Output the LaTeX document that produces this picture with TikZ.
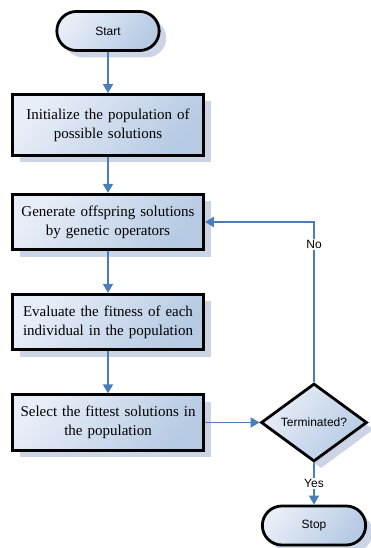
\documentclass[tikz,border=0pt]{standalone}
\usepackage{fontspec}
\setmainfont{Liberation Serif}
\setsansfont{Liberation Sans}
\usetikzlibrary{shapes.geometric,shapes.misc,shadows,arrows.meta}

\definecolor{boxlight}{HTML}{E8EEF8}
\definecolor{boxdark}{HTML}{B6CAE3}
\definecolor{flowblue}{HTML}{4A7EBB}
\definecolor{shadowgray}{HTML}{CCD5E6}

\tikzset{
  boxbase/.style={draw, line width=2.8pt, top color=boxlight, bottom color=boxdark, shading angle=50,
    drop shadow={shadow xshift=7pt, shadow yshift=-7pt, fill=shadowgray, opacity=1}},
  terminal/.style={boxbase, rounded rectangle, minimum width=109pt, minimum height=39pt,
    font=\sffamily\fontsize{12}{14}\selectfont},
  process/.style={boxbase, rectangle, minimum width=191pt, minimum height=55.5pt,
    text width=186pt, inner xsep=2pt, align=center, font=\fontsize{15}{19}\selectfont},
  decision/.style={boxbase, diamond, minimum width=106pt, minimum height=78pt, inner sep=0pt,
    font=\sffamily\fontsize{12}{14}\selectfont},
  flow/.style={draw=flowblue, line width=1.8pt, -{Triangle[width=10pt,length=9pt]}},
  flowlabel/.style={fill=white, inner sep=1.5pt, font=\sffamily\fontsize{12}{14}\selectfont}
}

\begin{document}
\begin{tikzpicture}
            \useasboundingbox (0,0) rectangle (371pt,-548pt);

            \node (1) [terminal] at (108pt,-31pt) {Start};
            \node (2) [process, minimum height=61pt, node distance=94pt, below of=1] {Initialize the population of\\possible solutions};
            \node (3) [process, node distance=97pt, below of=2] {Generate offspring solutions\\by genetic operators};
            \node (4) [process, node distance=100pt, below of=3] {Evaluate the fitness of each\\individual in the population};
            \node (5) [process, node distance=100.5pt, below of=4] {Select the fittest solutions in\\the population};

            \node (6) [decision, node distance=206pt, right of=5] {Terminated?};
            \node (7) [terminal, minimum width=110pt, node distance=103pt, below of=6] {Stop};

            \draw [flow] (1) to (2);
            \draw [flow] (2) to (3);
            \draw [flow] (3) to (4);
            \draw [flow] (4) to (5);
            \draw [flow] (5) to (6);

            \draw [flow] (6) |- node [flowlabel, pos=0.43] {No} (3);
            \draw [flow] (6) to node [flowlabel, midway] {Yes} (7);
        \end{tikzpicture}
\end{document}
